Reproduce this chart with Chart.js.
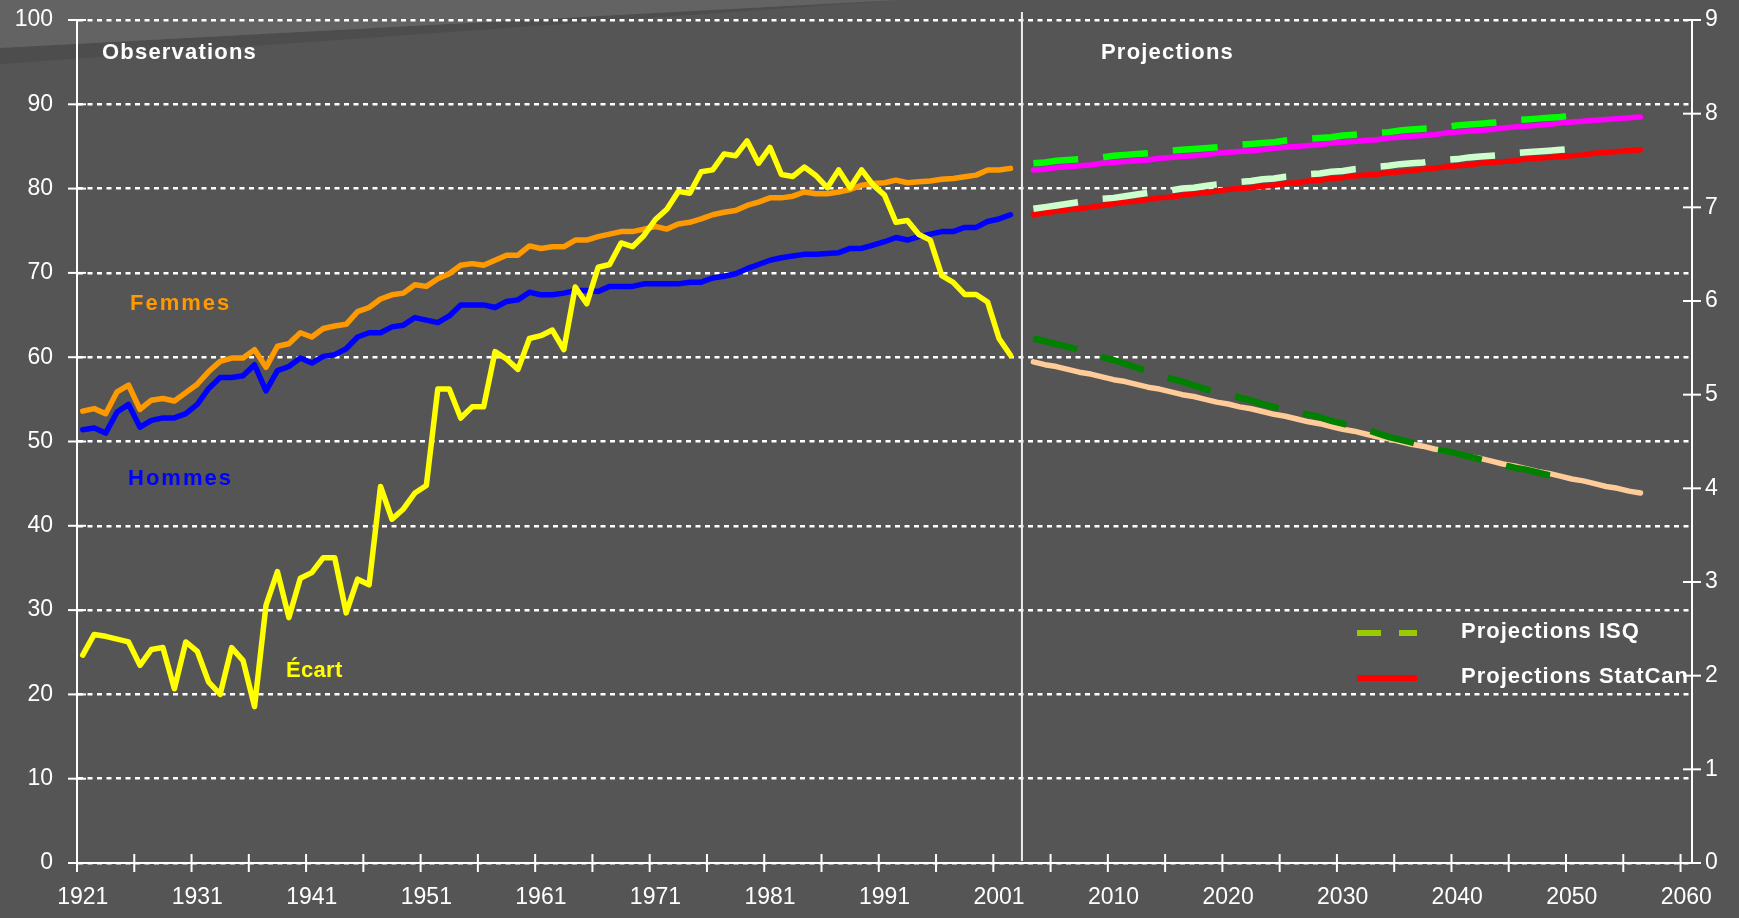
<!DOCTYPE html>
<html>
<head>
<meta charset="utf-8">
<script src="https://cdn.jsdelivr.net/npm/chart.js@4.4.1/dist/chart.umd.min.js"></script>
<style>
  html, body { margin: 0; padding: 0; background: #555555; }
  #wrap { width: 1739px; height: 918px; position: relative; }
</style>
</head>
<body>
<div id="wrap"><canvas id="chart"></canvas></div>
<script>
const FONT = "'Liberation Sans', Arial, sans-serif";

// category axis: observed years, one empty slot (the divider), projected years
const obsYears = [];
for (let y = 1921; y <= 2002; y++) obsYears.push(y);
const projYears = [];
for (let y = 2003; y <= 2060; y++) projYears.push(y);
const categories = obsYears.map(String).concat([''], projYears.map(String));
const labelStep = 10;   // a year label every 10 categories
const tickStep = 5;     // a tick mark every 5 categories

// observations 1921-2002 (left axis, years of life expectancy)
const femmes = [
  53.6, 53.9, 53.3, 55.9, 56.7, 53.8, 54.9, 55.1, 54.8, 55.8,
  56.8, 58.3, 59.5, 59.9, 59.9, 60.9, 58.8, 61.3, 61.6, 62.9,
  62.4, 63.4, 63.7, 63.9, 65.4, 65.9, 66.9, 67.4, 67.6, 68.6,
  68.4, 69.3, 69.9, 70.9, 71.1, 70.9, 71.5, 72.1, 72.1, 73.2,
  72.9, 73.1, 73.1, 73.9, 73.9, 74.3, 74.6, 74.9, 74.9, 75.2,
  75.5, 75.2, 75.8, 76.0, 76.4, 76.9, 77.2, 77.4, 78.0, 78.4,
  78.9, 78.9, 79.1, 79.6, 79.4, 79.4, 79.6, 79.9, 80.4, 80.6,
  80.7, 81.0, 80.7, 80.8, 80.9, 81.1, 81.2, 81.4, 81.6, 82.2,
  82.2, 82.4
];
const hommes = [
  51.4, 51.6, 51.0, 53.5, 54.4, 51.7, 52.5, 52.8, 52.8, 53.3,
  54.4, 56.3, 57.6, 57.6, 57.8, 59.1, 56.0, 58.4, 58.9, 59.9,
  59.3, 60.1, 60.3, 61.0, 62.4, 62.9, 62.9, 63.6, 63.8, 64.7,
  64.4, 64.1, 64.9, 66.2, 66.2, 66.2, 65.9, 66.6, 66.8, 67.7,
  67.4, 67.4, 67.6, 67.9, 67.9, 67.8, 68.4, 68.4, 68.4, 68.7,
  68.7, 68.7, 68.7, 68.9, 68.9, 69.4, 69.6, 69.9, 70.5, 71.0,
  71.5, 71.8, 72.0, 72.2, 72.2, 72.3, 72.4, 72.9, 72.9, 73.3,
  73.7, 74.2, 73.9, 74.3, 74.6, 74.9, 74.9, 75.4, 75.4, 76.1,
  76.4, 76.9
];
// gap women - men (right axis)
const ecart = [
  2.22, 2.44, 2.42, 2.39, 2.36, 2.11, 2.28, 2.30, 1.86, 2.36,
  2.26, 1.93, 1.80, 2.30, 2.16, 1.67, 2.75, 3.11, 2.62, 3.04,
  3.10, 3.26, 3.26, 2.67, 3.03, 2.97, 4.02, 3.67, 3.78, 3.95,
  4.03, 5.06, 5.06, 4.75, 4.87, 4.87, 5.46, 5.38, 5.27, 5.60,
  5.63, 5.69, 5.48, 6.15, 5.97, 6.36, 6.39, 6.62, 6.58, 6.70,
  6.87, 6.98, 7.17, 7.15, 7.38, 7.40, 7.57, 7.55, 7.71, 7.47,
  7.64, 7.35, 7.33, 7.43, 7.34, 7.21, 7.40, 7.21, 7.40, 7.24,
  7.13, 6.84, 6.86, 6.71, 6.65, 6.27, 6.20, 6.07, 6.07, 5.99,
  5.60, 5.42
];

// StatCan projections 2003-2056
const femmesStatCan = [
  82.2, 82.3, 82.5, 82.6, 82.7, 82.8, 83.0, 83.1, 83.2, 83.3,
  83.4, 83.6, 83.7, 83.8, 83.9, 84.0, 84.2, 84.3, 84.4, 84.5,
  84.6, 84.8, 84.9, 85.0, 85.1, 85.2, 85.4, 85.5, 85.6, 85.7,
  85.8, 86.0, 86.1, 86.2, 86.3, 86.4, 86.6, 86.7, 86.8, 86.9,
  87.0, 87.2, 87.3, 87.4, 87.5, 87.6, 87.8, 87.9, 88.0, 88.1,
  88.2, 88.3, 88.4, 88.5
];
const hommesStatCan = [
  76.9, 77.1, 77.3, 77.5, 77.6, 77.8, 78.0, 78.2, 78.4, 78.5,
  78.7, 78.9, 79.0, 79.2, 79.4, 79.5, 79.7, 79.9, 80.0, 80.1,
  80.3, 80.4, 80.6, 80.7, 80.9, 81.0, 81.2, 81.3, 81.5, 81.6,
  81.7, 81.9, 82.0, 82.1, 82.3, 82.4, 82.6, 82.7, 82.8, 83.0,
  83.1, 83.2, 83.3, 83.5, 83.6, 83.7, 83.8, 83.9, 84.0, 84.2,
  84.3, 84.4, 84.5, 84.6
];
const ecartStatCan = [
  5.35, 5.32, 5.30, 5.27, 5.24, 5.22, 5.19, 5.16, 5.14, 5.11,
  5.08, 5.06, 5.03, 5.00, 4.98, 4.95, 4.92, 4.90, 4.87, 4.85,
  4.82, 4.79, 4.77, 4.74, 4.71, 4.69, 4.66, 4.63, 4.61, 4.58,
  4.55, 4.53, 4.50, 4.47, 4.45, 4.42, 4.40, 4.37, 4.34, 4.32,
  4.29, 4.26, 4.24, 4.21, 4.18, 4.16, 4.13, 4.10, 4.08, 4.05,
  4.02, 4.00, 3.97, 3.95
];

// ISQ projections 2003-2050
const femmesISQ = [
  83.0, 83.1, 83.3, 83.4, 83.5, 83.6, 83.7, 83.9, 84.0, 84.1,
  84.2, 84.3, 84.5, 84.6, 84.7, 84.8, 84.9, 85.1, 85.2, 85.3,
  85.4, 85.5, 85.7, 85.8, 85.9, 86.0, 86.1, 86.3, 86.4, 86.5,
  86.6, 86.7, 86.9, 87.0, 87.1, 87.2, 87.3, 87.5, 87.6, 87.7,
  87.8, 87.9, 88.1, 88.2, 88.3, 88.4, 88.5, 88.7
];
const hommesISQ = [
  77.6, 77.8, 78.0, 78.2, 78.4, 78.6, 78.8, 78.9, 79.1, 79.3,
  79.5, 79.6, 79.8, 80.0, 80.1, 80.3, 80.5, 80.6, 80.8, 80.9,
  81.1, 81.2, 81.4, 81.5, 81.7, 81.8, 82.0, 82.1, 82.3, 82.4,
  82.6, 82.7, 82.9, 83.0, 83.1, 83.3, 83.4, 83.5, 83.7, 83.8,
  83.9, 84.0, 84.2, 84.3, 84.4, 84.5, 84.6, 84.7
];
const ecartISQ = [
  5.60, 5.57, 5.54, 5.51, 5.48, 5.44, 5.40, 5.37, 5.33, 5.29,
  5.25, 5.21, 5.17, 5.14, 5.10, 5.06, 5.03, 5.00, 4.97, 4.94,
  4.90, 4.87, 4.83, 4.81, 4.79, 4.76, 4.72, 4.69, 4.66, 4.63,
  4.59, 4.55, 4.52, 4.49, 4.46, 4.42, 4.40, 4.37, 4.34, 4.31,
  4.28, 4.25, 4.22, 4.20, 4.17, 4.14, 4.12, 4.09
];

function obsSeries(values) {
  const d = values.slice();
  while (d.length < categories.length) d.push(null);
  return d;
}
function projSeries(values) {
  const d = new Array(obsYears.length + 1).fill(null).concat(values);
  while (d.length < categories.length) d.push(null);
  return d;
}

function solid(label, values, color, axis) {
  return {label: label, data: values, yAxisID: axis, borderColor: color, borderWidth: 5.5,
    borderJoinStyle: 'round', borderCapStyle: 'round', pointRadius: 0, fill: false, tension: 0};
}
function dashed(label, values, color, axis) {
  return {label: label, data: values, yAxisID: axis, borderColor: color, borderWidth: 6.5,
    borderDash: [45, 25], borderCapStyle: 'butt', borderJoinStyle: 'miter', pointRadius: 0, fill: false, tension: 0};
}

// first dataset is drawn on top
const datasets = [
  dashed('Écart ISQ', projSeries(ecartISQ), '#008000', 'y2'),
  solid('Écart StatCan', projSeries(ecartStatCan), '#FFCC99', 'y2'),
  dashed('Hommes ISQ', projSeries(hommesISQ), '#CCFFCC', 'y'),
  solid('Hommes StatCan', projSeries(hommesStatCan), '#FF0000', 'y'),
  dashed('Femmes ISQ', projSeries(femmesISQ), '#00FF00', 'y'),
  solid('Femmes StatCan', projSeries(femmesStatCan), '#FF00FF', 'y'),
  solid('Écart', obsSeries(ecart), '#FFFF00', 'y2'),
  solid('Hommes', obsSeries(hommes), '#0000FF', 'y'),
  solid('Femmes', obsSeries(femmes), '#FF9900', 'y')
];

function line(ctx, x1, y1, x2, y2) {
  ctx.beginPath(); ctx.moveTo(x1, y1); ctx.lineTo(x2, y2); ctx.stroke();
}
function text(ctx, str, x, y, color, size, spacing) {
  ctx.font = 'bold ' + size + 'px ' + FONT;
  ctx.fillStyle = color;
  ctx.letterSpacing = spacing + 'px';
  ctx.textAlign = 'left';
  ctx.textBaseline = 'middle';
  ctx.fillText(str, x, y);
}

const decor = {
  id: 'decor',
  beforeDraw(chart) {
    const ctx = chart.ctx;
    ctx.save();
    ctx.fillStyle = '#555555';
    ctx.fillRect(0, 0, chart.width, chart.height);
    ctx.fillStyle = '#4d4d4d';
    ctx.beginPath(); ctx.moveTo(0, 48); ctx.lineTo(900, 0); ctx.lineTo(0, 64); ctx.closePath(); ctx.fill();
    ctx.fillStyle = '#636363';
    ctx.beginPath(); ctx.moveTo(0, 0); ctx.lineTo(900, 0); ctx.lineTo(0, 48); ctx.closePath(); ctx.fill();
    ctx.restore();
  },
  afterDraw(chart) {
    const ctx = chart.ctx;
    const {left, right, top, bottom} = chart.chartArea;
    const x = chart.scales.x, y = chart.scales.y, y2 = chart.scales.y2;
    ctx.save();
    ctx.strokeStyle = '#ffffff';
    ctx.lineWidth = 2;
    // tick marks crossing the axes
    y.ticks.forEach(t => { const py = y.getPixelForValue(t.value); line(ctx, left - 9, py, left + 9, py); });
    y2.ticks.forEach(t => { const py = y2.getPixelForValue(t.value); line(ctx, right - 9, py, right + 9, py); });
    const half = (x.getPixelForValue(1) - x.getPixelForValue(0)) / 2;
    for (let i = 0; i < categories.length; i += tickStep) {
      const px = x.getPixelForValue(i) - half;
      line(ctx, px, bottom - 9, px, bottom + 9);
    }
    // divider between observations and projections
    ctx.strokeStyle = '#eeeeee';
    const dx = x.getPixelForValue(obsYears.length);
    line(ctx, dx, top - 8, dx, bottom - 2);

    text(ctx, 'Observations', 102, 53, '#ffffff', 22, 1.2);
    text(ctx, 'Projections', 1101, 53, '#ffffff', 22, 1.2);
    text(ctx, 'Femmes', 130, 304, '#FF9900', 22, 2.0);
    text(ctx, 'Hommes', 128, 479, '#0000FF', 22, 2.0);
    text(ctx, 'Écart', 286, 671, '#FFFF00', 22, 0.3);

    // legend
    ctx.lineWidth = 6;
    ctx.lineCap = 'butt';
    ctx.strokeStyle = '#99CC00';
    line(ctx, 1357, 633, 1381, 633);
    line(ctx, 1399, 633, 1417, 633);
    ctx.strokeStyle = '#FF0000';
    line(ctx, 1357, 678, 1417, 678);
    text(ctx, 'Projections ISQ', 1461, 632, '#ffffff', 22, 1.0);
    text(ctx, 'Projections StatCan', 1461, 677, '#ffffff', 22, 1.0);
    ctx.restore();
  }
};

function noPad(s) { s.paddingTop = 0; s.paddingBottom = 0; s.paddingLeft = 0; s.paddingRight = 0; }

const tickFont = {family: FONT, size: 23};
new Chart(document.getElementById('chart'), {
  type: 'line',
  data: {labels: categories, datasets: datasets},
  plugins: [decor],
  options: {
    responsive: true,
    maintainAspectRatio: false,
    animation: false,
    layout: {autoPadding: false, padding: {top: 20, left: 0, right: 0, bottom: 0}},
    plugins: {legend: {display: false}, tooltip: {enabled: false}},
    scales: {
      x: {
        type: 'category',
        offset: true,
        grid: {display: false},
        border: {display: true, color: '#ffffff', width: 2},
        ticks: {
          autoSkip: false, maxRotation: 0, minRotation: 0, padding: 13,
          color: '#ffffff', font: tickFont,
          callback: (v, i) => (i % labelStep === 0 ? categories[i] : '')
        },
        afterFit: s => { s.height = 55; noPad(s); }
      },
      y: {
        position: 'left', min: 0, max: 100,
        ticks: {stepSize: 10, padding: 24, color: '#ffffff', font: tickFont},
        grid: {color: '#ffffff', lineWidth: 2.5, drawTicks: false},
        border: {display: true, color: '#ffffff', width: 2, dash: [5, 4.5]},
        afterFit: s => { s.width = 77; noPad(s); }
      },
      y2: {
        position: 'right', min: 0, max: 9,
        ticks: {stepSize: 1, padding: 13, color: '#ffffff', font: tickFont},
        grid: {drawOnChartArea: false, drawTicks: false},
        border: {display: true, color: '#ffffff', width: 2},
        afterFit: s => { s.width = 47; noPad(s); }
      }
    }
  }
});
</script>
</body>
</html>
